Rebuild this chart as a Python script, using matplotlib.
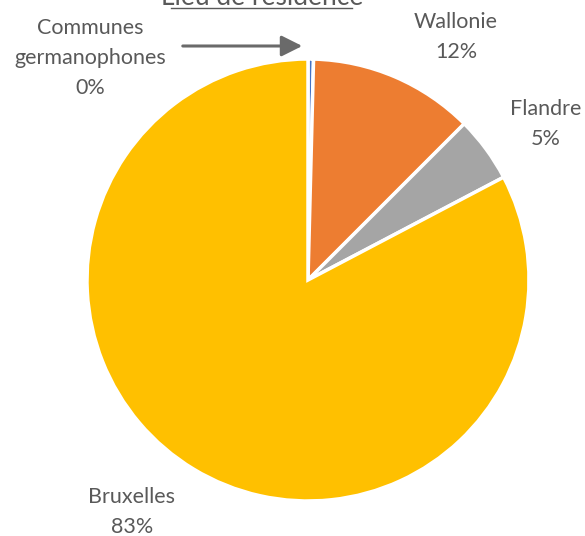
import matplotlib
matplotlib.use("Agg")
import matplotlib.pyplot as plt

categories = ["Communes\ngermanophones", "Wallonie", "Flandre", "Bruxelles"]
values = [0.4, 12.1, 4.8, 82.7]
colors = ["#4472C4", "#ED7D31", "#A5A5A5", "#FFC000"]
title = "Lieu de résidence"

W, H = 585, 536
fig = plt.figure(figsize=(W / 100, H / 100), dpi=100)
ax = fig.add_axes([0, 0, 1, 1])
ax.pie(values, colors=colors, startangle=90, counterclock=False,
       center=(308, H - 280), radius=221,
       wedgeprops=dict(edgecolor="white", linewidth=2.5))
ax.set_xlim(0, W)
ax.set_ylim(0, H)
ax.set_aspect("equal")
ax.axis("off")

font = ["Lato", "DejaVu Sans"]
tc = "#595959"
fs = 15.5

def lab(i, x, y):
    ax.text(x, H - y, f"{categories[i]}\n{round(values[i]):d}%", ha="center", va="center",
            fontsize=fs, color=tc, family=font, linespacing=1.6)

lab(0, 90, 58)
lab(1, 456, 37)
lab(2, 546, 124)
lab(3, 132, 512)

ax.annotate("", xy=(305, H - 46), xytext=(180, H - 46),
            arrowprops=dict(arrowstyle="-|>,head_length=0.9,head_width=0.45",
                            color="#6A6A6A", lw=2.2, mutation_scale=14))

ax.text(262, H - 5, title, ha="center", va="baseline", fontsize=19, color=tc, family=font)
ax.plot([171, 352], [H - 8, H - 8], color=tc, lw=1)

fig.savefig("out.png", dpi=100)
